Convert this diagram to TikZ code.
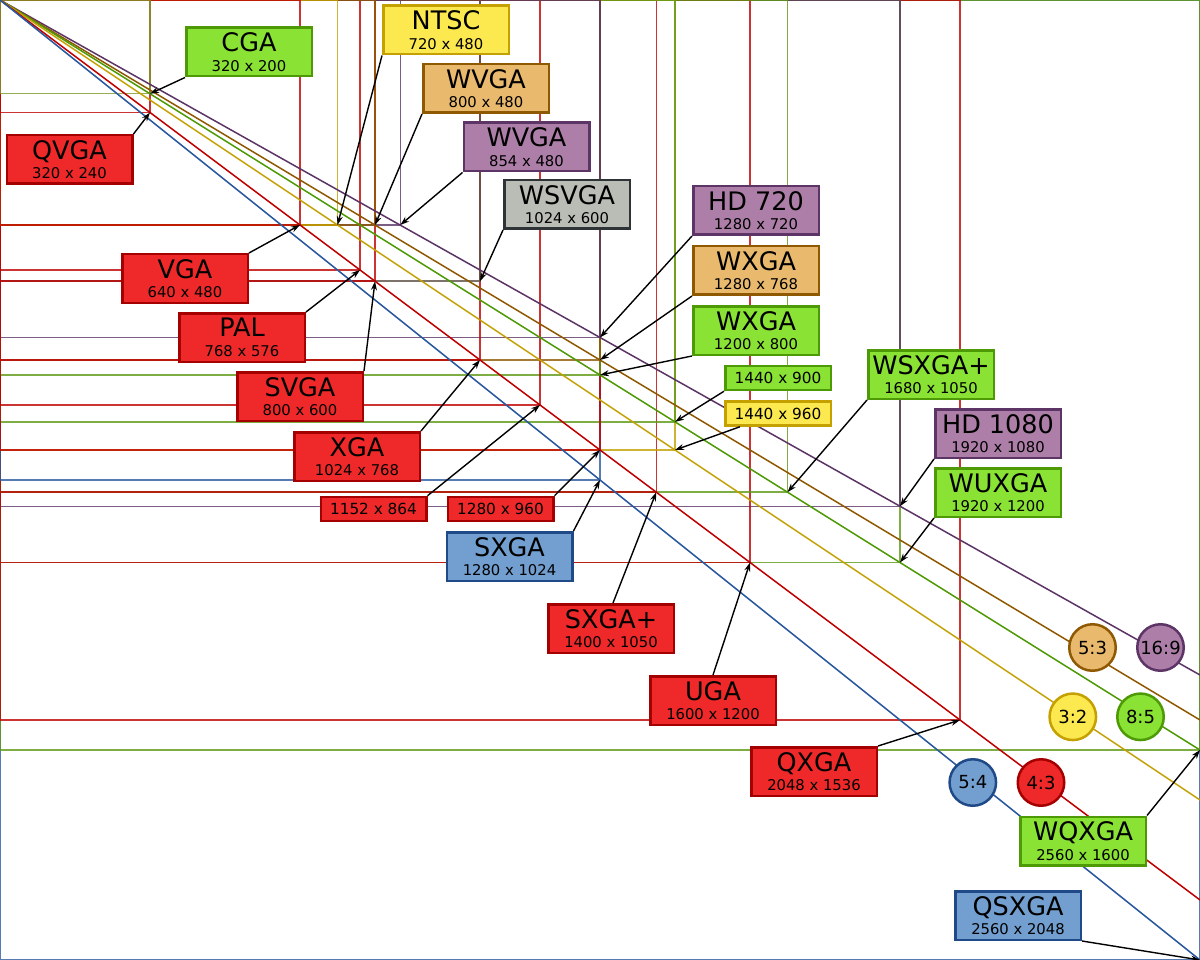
\documentclass[tikz,border=0pt]{standalone}
\usepackage{fontspec}
\setmainfont{DejaVu Sans}
\usetikzlibrary{arrows.meta}
\definecolor{redF}{HTML}{EF2929}\definecolor{redB}{HTML}{A40000}
\definecolor{grnF}{HTML}{8AE234}\definecolor{grnB}{HTML}{4E9A06}
\definecolor{yelF}{HTML}{FCE94F}\definecolor{yelB}{HTML}{C4A000}
\definecolor{orgF}{HTML}{E9B96E}\definecolor{orgB}{HTML}{8F5902}
\definecolor{plmF}{HTML}{AD7FA8}\definecolor{plmB}{HTML}{5C3566}
\definecolor{bluF}{HTML}{729FCF}\definecolor{bluB}{HTML}{204A87}
\definecolor{gryF}{HTML}{BABDB6}\definecolor{gryB}{HTML}{2E3436}
\definecolor{lRed}{HTML}{C00000}
\definecolor{lGrn}{HTML}{5E9A14}
\definecolor{lCga}{HTML}{7D9A2A}
\definecolor{lYel}{HTML}{C4A000}
\definecolor{lChc}{HTML}{8F5902}
\definecolor{lPlm}{HTML}{5C3566}
\definecolor{lBlu}{HTML}{2C5AA0}
\definecolor{lGry}{HTML}{5E5045}
\definecolor{dPlm}{HTML}{5C3566}
\definecolor{dGrn}{HTML}{4E9A06}
\newcommand{\restext}[2]{\vbox{\baselineskip=19.5pt\lineskiplimit=-100pt\halign{\hfil##\hfil\cr\fontsize{25.5}{25.5}\selectfont #1\cr\fontsize{14.8}{14.8}\selectfont #2\cr}}}
\tikzset{
  resbox/.style={draw, line width=2.5pt, minimum width=125.5pt, minimum height=48.5pt, inner sep=0pt},
  smallbox/.style={draw, line width=2.5pt, minimum width=105.5pt, minimum height=24pt, inner sep=0pt, font=\fontsize{15.3}{16}\selectfont},
  ratio/.style={circle, draw, line width=2.5pt, minimum size=46.5pt, inner sep=0pt, font=\fontsize{18}{18}\selectfont},
  rbox/.style={fill=redF, draw=redB},
  gbox/.style={fill=grnF, draw=grnB},
  ybox/.style={fill=yelF, draw=yelB},
  obox/.style={fill=orgF, draw=orgB},
  pbox/.style={fill=plmF, draw=plmB},
  bbox/.style={fill=bluF, draw=bluB},
  xbox/.style={fill=gryF, draw=gryB},
  rect/.style={line width=1.5pt, draw opacity=0.8},
  diag/.style={line width=1.5pt},
  arr/.style={-{Stealth[length=9pt,width=6pt]}, line width=1.4pt, black}
}
\begin{document}
\begin{tikzpicture}[x=1pt,y=-1pt]
\useasboundingbox (0,0) rectangle (1200,960);
\fill[white] (0,0) rectangle (1200,960);
\coordinate (O) at (0,0);
% resolution rectangles, largest first
\draw[rect, lBlu] (O) rectangle (1200,960);
\draw[rect, lGrn] (O) rectangle (1200,750);
\draw[rect, lRed] (O) rectangle (960,720);
\draw[rect, lGrn] (O) rectangle (900,562.5);
\draw[rect, lPlm] (O) rectangle (900,506.25);
\draw[rect, lRed] (O) rectangle (750,562.5);
\draw[rect, lGrn] (O) rectangle (787.5,492.19);
\draw[rect, lRed] (O) rectangle (656.25,492.19);
\draw[rect, lYel] (O) rectangle (675,450);
\draw[rect, lBlu] (O) rectangle (600,480);
\draw[rect, lGrn] (O) rectangle (675,421.875);
\draw[rect, lRed] (O) rectangle (600,450);
\draw[rect, lGrn] (O) rectangle (600,375);
\draw[rect, lRed] (O) rectangle (540,405);
\draw[rect, lChc] (O) rectangle (600,360);
\draw[rect, lPlm] (O) rectangle (600,337.5);
\draw[rect, lRed] (O) rectangle (480,360);
\draw[rect, lGry] (O) rectangle (480,281.25);
\draw[rect, lRed] (O) rectangle (375,281.25);
\draw[rect, lRed] (O) rectangle (360,270);
\draw[rect, lPlm] (O) rectangle (400.3,225);
\draw[rect, lChc] (O) rectangle (375,225);
\draw[rect, lYel] (O) rectangle (337.5,225);
\draw[rect, lRed] (O) rectangle (300,225);
\draw[rect, lRed] (O) rectangle (150,112.5);
\draw[rect, lCga] (O) rectangle (150,93.75);
% aspect ratio diagonals
\draw[diag, dPlm] (O) -- (1200,675);
\draw[diag, lChc] (O) -- (1200,720);
\draw[diag, dGrn] (O) -- (1200,750);
\draw[diag, lYel] (O) -- (1200,800);
\draw[diag, lRed] (O) -- (1200,900);
\draw[diag, lBlu] (O) -- (1200,960);
% corner targets
\coordinate (cCGA) at (150,93.75);
\coordinate (cQVGA) at (150,112.5);
\coordinate (cNTSC) at (337.5,225);
\coordinate (cWVGAa) at (375,225);
\coordinate (cWVGAb) at (400.3,225);
\coordinate (cWSVGA) at (480,281.25);
\coordinate (cHDs) at (600,337.5);
\coordinate (cWXGAa) at (600,360);
\coordinate (cWXGAb) at (600,375);
\coordinate (cVGA) at (300,225);
\coordinate (cPAL) at (360,270);
\coordinate (cSVGA) at (375,281.25);
\coordinate (cXGA) at (480,360);
\coordinate (cA) at (540,405);
\coordinate (cB) at (600,450);
\coordinate (cSXGA) at (600,480);
\coordinate (cC) at (675,421.875);
\coordinate (cD) at (675,450);
\coordinate (cWSXGA) at (787.5,492.19);
\coordinate (cHDl) at (900,506.25);
\coordinate (cWUXGA) at (900,562.5);
\coordinate (cSXGAp) at (656.25,492.19);
\coordinate (cUGA) at (750,562.5);
\coordinate (cQXGA) at (960,720);
\coordinate (cWQXGA) at (1200,750);
\coordinate (cQSXGA) at (1200,960);
% label boxes
\node[resbox, gbox] (cga) at (249,52) {\restext{CGA}{320 x 200}};
\node[resbox, rbox] (qvga) at (69.5,159.5) {\restext{QVGA}{320 x 240}};
\node[resbox, ybox] (ntsc) at (446,30) {\restext{NTSC}{720 x 480}};
\node[resbox, obox] (wvgaa) at (486,88.5) {\restext{WVGA}{800 x 480}};
\node[resbox, pbox] (wvgab) at (526.5,147) {\restext{WVGA}{854 x 480}};
\node[resbox, xbox] (wsvga) at (567,204.5) {\restext{WSVGA}{1024 x 600}};
\node[resbox, pbox] (hds) at (756,210.5) {\restext{HD 720}{1280 x 720}};
\node[resbox, obox] (wxgaa) at (756,270.5) {\restext{WXGA}{1280 x 768}};
\node[resbox, gbox] (wxgab) at (756,330.5) {\restext{WXGA}{1200 x 800}};
\node[resbox, rbox] (vga) at (185,278.5) {\restext{VGA}{640 x 480}};
\node[resbox, rbox] (pal) at (242,337.5) {\restext{PAL}{768 x 576}};
\node[resbox, rbox] (svga) at (300,396.5) {\restext{SVGA}{800 x 600}};
\node[resbox, rbox] (xga) at (357,456.5) {\restext{XGA}{1024 x 768}};
\node[smallbox, rbox] (ra) at (373.5,509) {1152 x 864};
\node[smallbox, rbox] (rb) at (500.5,509) {1280 x 960};
\node[resbox, bbox] (sxga) at (509.5,556.5) {\restext{SXGA}{1280 x 1024}};
\node[smallbox, gbox] (rc) at (778,378) {1440 x 900};
\node[smallbox, ybox] (rd) at (778,413.5) {1440 x 960};
\node[resbox, gbox] (wsxga) at (931,374.5) {\restext{WSXGA+}{1680 x 1050}};
\node[resbox, pbox] (hdl) at (998,433.5) {\restext{HD 1080}{1920 x 1080}};
\node[resbox, gbox] (wuxga) at (998,492.5) {\restext{WUXGA}{1920 x 1200}};
\node[resbox, rbox] (sxgap) at (611,628.5) {\restext{SXGA+}{1400 x 1050}};
\node[resbox, rbox] (uga) at (713,700.5) {\restext{UGA}{1600 x 1200}};
\node[resbox, rbox] (qxga) at (814,771.5) {\restext{QXGA}{2048 x 1536}};
\node[resbox, gbox] (wqxga) at (1083,841) {\restext{WQXGA}{2560 x 1600}};
\node[resbox, bbox] (qsxga) at (1018,915.5) {\restext{QSXGA}{2560 x 2048}};
% ratio circles
\node[ratio, obox] (r53) at (1092.5,647.5) {5:3};
\node[ratio, pbox] (r169) at (1160.5,647.5) {16:9};
\node[ratio, ybox] (r32) at (1072.8,716.8) {3:2};
\node[ratio, gbox] (r85) at (1140.5,716.8) {8:5};
\node[ratio, bbox] (r54) at (972.8,782.5) {5:4};
\node[ratio, rbox] (r43) at (1041,782.5) {4:3};
% arrows
\draw[arr] (cga.south west) -- (cCGA);
\draw[arr] (qvga.north east) -- (cQVGA);
\draw[arr] (ntsc.south west) -- (cNTSC);
\draw[arr] (wvgaa.south west) -- (cWVGAa);
\draw[arr] (wvgab.south west) -- (cWVGAb);
\draw[arr] (wsvga.south west) -- (cWSVGA);
\draw[arr] (hds.south west) -- (cHDs);
\draw[arr] (wxgaa.south west) -- (cWXGAa);
\draw[arr] (wxgab.south west) -- (cWXGAb);
\draw[arr] (vga.north east) -- (cVGA);
\draw[arr] (pal.north east) -- (cPAL);
\draw[arr] (svga.north east) -- (cSVGA);
\draw[arr] (xga.north east) -- (cXGA);
\draw[arr] (ra.north east) -- (cA);
\draw[arr] (rb.north east) -- (cB);
\draw[arr] (sxga.north east) -- (cSXGA);
\draw[arr] (rc.south west) -- (cC);
\draw[arr] ([xshift=16pt]rd.south west) -- (cD);
\draw[arr] (wsxga.south west) -- (cWSXGA);
\draw[arr] (hdl.south west) -- (cHDl);
\draw[arr] (wuxga.south west) -- (cWUXGA);
\draw[arr] ([xshift=2pt]sxgap.north) -- (cSXGAp);
\draw[arr] (uga.north) -- (cUGA);
\draw[arr] (qxga.north east) -- (cQXGA);
\draw[arr] (wqxga.north east) -- (cWQXGA);
\draw[arr] (qsxga.south east) -- (cQSXGA);
\end{tikzpicture}
\end{document}
